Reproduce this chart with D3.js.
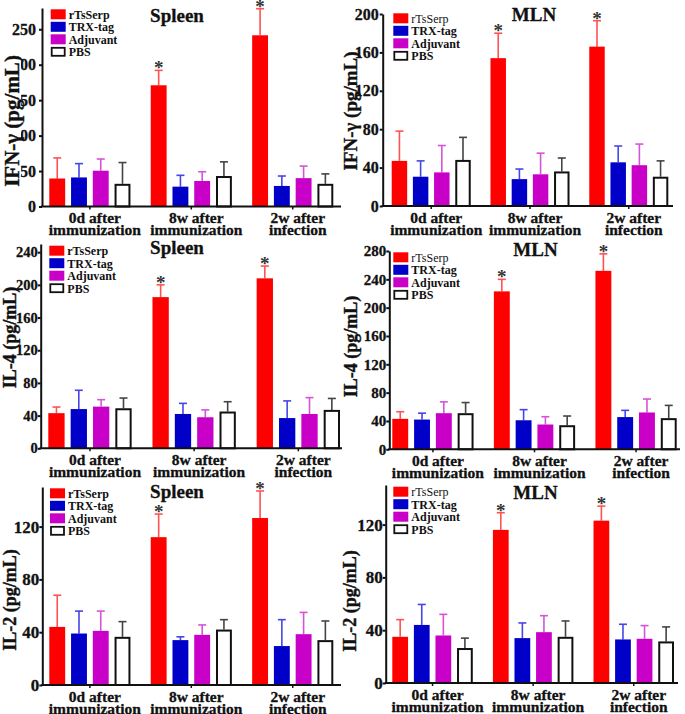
<!DOCTYPE html>
<html>
<head>
<meta charset="utf-8">
<script src="https://cdn.jsdelivr.net/npm/d3@7"></script>
<style>
  html, body { margin: 0; padding: 0; background: #fff; }
  svg { display: block; }
  text { font-family: "Liberation Serif", "Times New Roman", serif; }
</style>
</head>
<body>
<svg id="chart" width="685" height="714"></svg>
<script>
// ---------------- data ----------------
const groups = ["0d after immunization", "8w after immunization", "2w after infection"];
const groupLines = [["0d after", "immunization"], ["8w after", "immunization"], ["2w after", "infection"]];
const series = ["rTsSerp", "TRX-tag", "Adjuvant", "PBS"];
const starGroups = [1, 2]; // groups where rTsSerp is marked with *

// means [group][series] and error (upper bar) [group][series]
const spleenIFN    = [[39.5, 41, 50.5, 32], [171, 28, 36, 43], [241.5, 29, 40, 32]];
const spleenIFNErr = [[29, 19.5, 16.5, 30], [21, 16, 13, 20], [37.5, 14, 17, 14]];
const mlnIFN       = [[47, 30.5, 35, 48], [154, 28, 33, 36], [166, 45.5, 42.5, 30.5]];
const mlnIFNErr    = [[31, 16.5, 28, 23.5], [26, 10.5, 22, 14], [27, 17, 22, 16.5]];
const spleenIL4    = [[43, 48, 51, 49], [185, 42, 38, 45], [208, 37, 42, 47]];
const spleenIL4Err = [[7.5, 23, 8.5, 12.5], [15, 13, 9, 12], [15, 21, 20, 14]];
const mlnIL4       = [[43, 42, 51, 51], [223, 41, 35, 34], [252, 45.5, 52, 44]];
const mlnIL4Err    = [[10, 9, 16, 15], [17, 15, 11, 13], [24, 9.5, 19, 18]];
const spleenIL2    = [[44, 39, 41, 36.5], [112, 34, 38, 42], [126.5, 29.5, 38.5, 34]];
const spleenIL2Err = [[24, 17, 15, 11.5], [17.5, 2.5, 7.5, 7.5], [20.5, 20, 16.5, 14.5]];
const mlnIL2       = [[35, 44, 36, 26.5], [116, 34, 38.5, 35], [123, 33, 33.5, 31.5]];
const mlnIL2Err    = [[13, 15.5, 16, 7.5], [13, 11.5, 12.5, 12], [11, 11.5, 10, 11]];

const ticksSpleenIFN = [0, 50, 100, 150, 200, 250];
const ticksMlnIFN = [0, 40, 80, 120, 160, 200];
const ticksSpleenIL4 = [0, 40, 80, 120, 160, 200, 240];
const ticksMlnIL4 = [0, 40, 80, 120, 160, 200, 240, 280];
const ticksIL2 = [0, 40, 80, 120];

// ---------------- styles ----------------
const fillColors = ["#ff0000", "#0000c8", "#c800c8", "#ffffff"];
const errColors = ["#ff5252", "#4646e6", "#d654d6", "#444444"];
const ink = "#111";

const panels = [
  { title: "Spleen", ylab: "IFN-γ (pg/mL)", means: spleenIFN, errs: spleenIFNErr, yMax: 280, ticks: ticksSpleenIFN,
    ax: 42, right: 341, top: 8, bottom: 206.5, b0: 49.3, b1: 333.3, tx: 177, ty: 22,
    lx: 50.7, ly: 9.3, yx: 11.5, yy: 121, ys: 21, ts: 16, tp: 3, mask: true, legBold: true },
  { title: "MLN", ylab: "IFN-γ (pg/mL)", means: mlnIFN, errs: mlnIFNErr, yMax: 200, ticks: ticksMlnIFN,
    ax: 382.7, right: 673, top: 14, bottom: 206, b0: 391.7, b1: 668.3, tx: 534, ty: 21,
    lx: 393.3, ly: 13.3, yx: 350.5, yy: 111, ys: 19, ts: 16, tp: 1, mask: false, legBold: false },
  { title: "Spleen", ylab: "IL-4 (pg/mL)", means: spleenIL4, errs: spleenIL4Err, yMax: 250, ticks: ticksSpleenIL4,
    ax: 40.7, right: 342, top: 244, bottom: 448.3, b0: 48.3, b1: 340, tx: 177, ty: 254,
    lx: 49.3, ly: 245.7, yx: 10, yy: 337.5, ys: 18, ts: 14.5, tp: 0, mask: false, legBold: true },
  { title: "MLN", ylab: "IL-4 (pg/mL)", means: mlnIL4, errs: mlnIL4Err, yMax: 280, ticks: ticksMlnIL4,
    ax: 389.3, right: 680, top: 251, bottom: 449.3, b0: 392.3, b1: 676.7, tx: 535.5, ty: 256,
    lx: 393.3, ly: 252.3, yx: 350.5, yy: 346.5, ys: 18, ts: 15, tp: 0, mask: false, legBold: false },
  { title: "Spleen", ylab: "IL-2 (pg/mL)", means: spleenIL2, errs: spleenIL2Err, yMax: 150, ticks: ticksIL2,
    ax: 42.3, right: 341, top: 487, bottom: 685, b0: 49.3, b1: 333.3, tx: 177, ty: 498,
    lx: 50, ly: 488.3, yx: 10, yy: 600, ys: 18, ts: 17, tp: 0, mask: false, legBold: true },
  { title: "MLN", ylab: "IL-2 (pg/mL)", means: mlnIL2, errs: mlnIL2Err, yMax: 150, ticks: ticksIL2,
    ax: 385.7, right: 678, top: 485, bottom: 683, b0: 392.3, b1: 674, tx: 535.5, ty: 499,
    lx: 393.3, ly: 486.7, yx: 349.5, yy: 601, ys: 18, ts: 17, tp: 0, mask: false, legBold: false }
];

const svg = d3.select("#chart");
svg.append("rect").attr("width", 685).attr("height", 714).attr("fill", "#fff");

function heavy(sel, w) {
  return sel.attr("stroke", ink).attr("stroke-width", w).attr("stroke-linejoin", "round");
}

panels.forEach(p => {
  const g = svg.append("g");
  const x0 = d3.scaleBand().domain(groups).range([p.b0, p.b1]).paddingInner(0.2).paddingOuter(0);
  const x1 = d3.scaleBand().domain(series).range([0, x0.bandwidth()]).paddingInner(0.27).paddingOuter(0);
  const y = d3.scaleLinear().domain([0, p.yMax]).range([p.bottom, p.top]);

  // bars + error bars
  groups.forEach((grp, gi) => {
    series.forEach((s, si) => {
      const v = p.means[gi][si];
      const e = p.errs[gi][si];
      const bx = x0(grp) + x1(s);
      const bw = x1.bandwidth();
      const cx = bx + bw / 2;
      g.append("line").attr("x1", cx).attr("x2", cx).attr("y1", y(v)).attr("y2", y(v + e))
        .attr("stroke", errColors[si]).attr("stroke-width", 1.6);
      g.append("line").attr("x1", cx - 4).attr("x2", cx + 4).attr("y1", y(v + e)).attr("y2", y(v + e))
        .attr("stroke", errColors[si]).attr("stroke-width", 1.6);
      if (si === 3) {
        g.append("rect").attr("x", bx + 1).attr("y", y(v) + 1).attr("width", bw - 2).attr("height", y(0) - y(v) - 1)
          .attr("fill", "#fff").attr("stroke", ink).attr("stroke-width", 2);
      } else {
        g.append("rect").attr("x", bx).attr("y", y(v)).attr("width", bw).attr("height", y(0) - y(v))
          .attr("fill", fillColors[si]);
      }
      if (si === 0 && starGroups.includes(gi)) {
        g.append("text").attr("x", cx).attr("y", y(v + e) + 4)
          .attr("text-anchor", "middle").attr("font-size", 19).attr("font-weight", "bold")
          .attr("fill", "#333").text("*");
      }
    });
  });

  // y axis
  const ya = g.append("g").attr("transform", `translate(${p.ax},0)`)
    .call(d3.axisLeft(y).tickValues(p.ticks).tickSize(3).tickSizeOuter(0).tickPadding(p.tp));
  ya.select(".domain").attr("stroke", ink).attr("stroke-width", 2);
  ya.selectAll(".tick line").attr("stroke", ink).attr("stroke-width", 2);
  heavy(ya.selectAll(".tick text").attr("font-family", "'Liberation Serif', 'Times New Roman', serif")
    .attr("font-size", p.ts).attr("font-weight", "bold").attr("fill", ink), 0.3);

  // x axis
  const xa = g.append("g").attr("transform", `translate(0,${p.bottom})`)
    .call(d3.axisBottom(x0).tickSize(3).tickSizeOuter(0).tickFormat(() => ""));
  xa.select(".domain").remove();
  xa.selectAll(".tick line").attr("stroke", ink).attr("stroke-width", 1.5);
  xa.selectAll(".tick text").remove();
  g.append("line").attr("x1", p.ax - 1).attr("x2", p.right).attr("y1", p.bottom).attr("y2", p.bottom)
    .attr("stroke", ink).attr("stroke-width", 2);

  groups.forEach((grp, gi) => {
    const t = heavy(g.append("text").attr("text-anchor", "middle").attr("font-size", 15.5)
      .attr("font-weight", "bold").attr("fill", ink), 0.3);
    groupLines[gi].forEach((ln, li) => {
      t.append("tspan").attr("x", x0(grp) + x0.bandwidth() / 2 + 5)
        .attr("y", p.bottom + 16.5 + li * 12).text(ln);
    });
  });

  // y axis title
  const yt = g.append("g").attr("transform", `translate(${p.yx},${p.yy}) rotate(-90)`);
  const ytxt = heavy(yt.append("text").attr("text-anchor", "middle").attr("dominant-baseline", "central")
    .attr("font-size", p.ys).attr("font-weight", "bold").attr("fill", ink).text(p.ylab), 0.4);
  if (p.mask) {
    const len = ytxt.node().getComputedTextLength();
    yt.insert("rect", "text").attr("x", -len / 2 - 2).attr("y", -p.ys * 0.45).attr("width", len + 4)
      .attr("height", p.ys * 0.9).attr("fill", "#fff");
  }

  // panel title
  heavy(g.append("text").attr("x", p.tx).attr("y", p.ty).attr("text-anchor", "middle")
    .attr("font-size", 19).attr("font-weight", "bold").attr("fill", ink).text(p.title), 0.3);

  // legend
  series.forEach((s, si) => {
    const ry = p.ly + si * 12.5;
    if (si === 3) {
      g.append("rect").attr("x", p.lx + 1).attr("y", ry + 1).attr("width", 13).attr("height", 8)
        .attr("fill", "#fff").attr("stroke", ink).attr("stroke-width", 1.8);
    } else {
      g.append("rect").attr("x", p.lx).attr("y", ry).attr("width", 15).attr("height", 10)
        .attr("fill", fillColors[si]);
    }
    g.append("text").attr("x", p.lx + 18).attr("y", ry + 9.5).attr("font-size", 12)
      .attr("font-weight", (si === 0 && !p.legBold) ? "normal" : "bold").attr("fill", ink).text(s);
  });
});
</script>
</body>
</html>
